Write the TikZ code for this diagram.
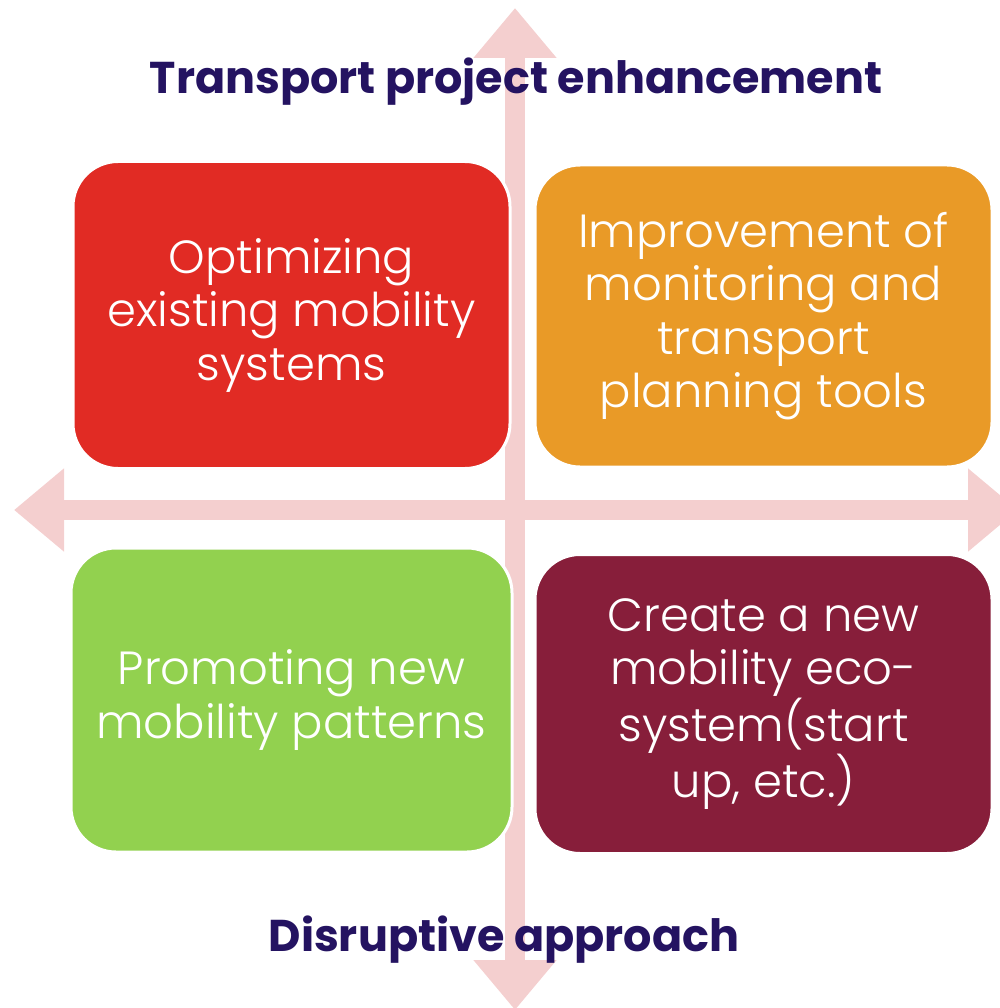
\documentclass[tikz,border=0pt]{standalone}
\usepackage{fontspec}
\setmainfont{Poppins}
\newfontfamily\lightfont{Poppins Light}
\usetikzlibrary{arrows.meta}

\definecolor{axispink}{HTML}{F4CFCF}
\definecolor{titleblue}{HTML}{241361}
\definecolor{boxred}{HTML}{E12B24}
\definecolor{boxorange}{HTML}{E99A27}
\definecolor{boxgreen}{HTML}{92D14F}
\definecolor{boxmaroon}{HTML}{871E3A}

\begin{document}
\begin{tikzpicture}[x=1pt,y=-1pt,
	axis/.style={draw=axispink, line width=20pt, {Triangle[length=50pt,width=80pt]}-{Triangle[length=50pt,width=80pt]}},
	quad/.style={draw=white, line width=3pt, rounded corners=45pt, align=center, text=white,
		font=\lightfont\fontsize{46.5}{53.5}\selectfont, inner sep=0pt},
	heading/.style={text=titleblue, font=\bfseries\fontsize{44.5}{50}\selectfont}]
		\useasboundingbox (0,0) rectangle (999,1008);
		\coordinate (top) at (515,8);
		\coordinate (bottom) at (515,1010);
		\coordinate (left) at (14,510);
		\coordinate (right) at (1018,510);
		\draw [axis] (top) -- (bottom);
		\draw [axis] (left) -- (right);
		\node [quad, fill=boxred, minimum width=437pt, minimum height=307pt] (optimize) at (291.5,315)
		{Optimizing\\existing mobility\\systems};
		\node [quad, fill=boxorange, minimum width=457pt, minimum height=302pt] (monitor) at (763.5,316)
		{Improvement of\\monitoring and\\transport\\planning tools};
		\node [quad, fill=boxgreen, minimum width=441pt, minimum height=304pt] (promote) at (291.5,700)
		{Promoting new\\mobility patterns};
		\node [quad, fill=boxmaroon, minimum width=457pt, minimum height=299pt] (create) at (763.5,704)
		{Create a new\\mobility eco-\\system(start\\up, etc.)};
		\node [heading] (enhance) at (516,82) {Transport project enhancement};
		\node [heading] (disrupt) at (504,940) {Disruptive approach};
\end{tikzpicture}
\end{document}
